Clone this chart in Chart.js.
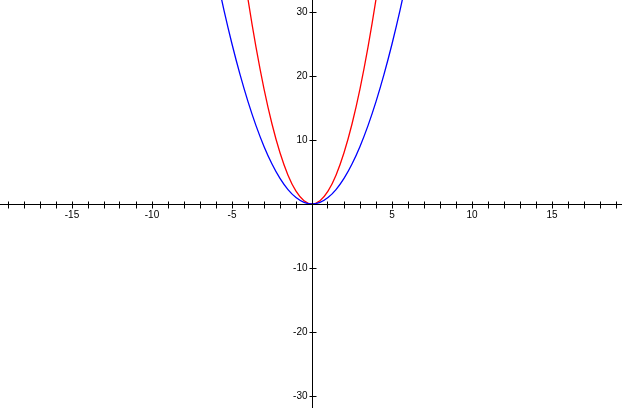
<!DOCTYPE html>
<html>
<head>
<meta charset="utf-8">
<script src="https://cdn.jsdelivr.net/npm/chart.js@4/dist/chart.umd.min.js"></script>
<style>
  html, body { margin: 0; padding: 0; background: #fff; }
  #wrap { width: 622px; height: 408px; position: relative; }
</style>
</head>
<body>
<div id="wrap"><canvas id="myChart"></canvas></div>
<script>
// points
const blueX = [-6, -5.5, -5, -4.5, -4, -3.5, -3, -2.5, -2, -1.5, -1, -0.5, 0, 0.5, 1, 1.5, 2, 2.5, 3, 3.5, 4, 4.5, 5, 5.5, 6];
const blueY = [36, 30.25, 25, 20.25, 16, 12.25, 9, 6.25, 4, 2.25, 1, 0.25, 0, 0.25, 1, 2.25, 4, 6.25, 9, 12.25, 16, 20.25, 25, 30.25, 36];
const redX = [-4.5, -4, -3.5, -3, -2.5, -2, -1.5, -1, -0.5, 0, 0.5, 1, 1.5, 2, 2.5, 3, 3.5, 4, 4.5];
const redY = [40.5, 32, 24.5, 18, 12.5, 8, 4.5, 2, 0.5, 0, 0.5, 2, 4.5, 8, 12.5, 18, 24.5, 32, 40.5];

// axis labels
const xLabels = [-15, -10, -5, 5, 10, 15];
const yLabels = [-30, -20, -10, 10, 20, 30];

function toPoints(xs, ys) {
    return xs.map((x, i) => ({ x: x, y: ys[i] }));
}

// draws the axes through the origin, like the original plot
const crossAxes = {
    id: 'crossAxes',
    afterDraw(chart) {
        const ctx = chart.ctx;
        const sx = chart.scales.x;
        const sy = chart.scales.y;
        const area = chart.chartArea;
        const x0 = Math.floor(sx.getPixelForValue(0)) + 0.5;
        const y0 = Math.floor(sy.getPixelForValue(0)) + 0.5;

        ctx.save();
        ctx.strokeStyle = '#000';
        ctx.lineWidth = 1;
        ctx.beginPath();
        ctx.moveTo(area.left, y0);
        ctx.lineTo(area.right, y0);
        ctx.moveTo(x0, area.top);
        ctx.lineTo(x0, area.bottom);

        // x ticks every unit
        for (let v = Math.ceil(sx.min); v <= Math.floor(sx.max); v++) {
            if (v === 0) continue;
            const px = Math.floor(sx.getPixelForValue(v)) + 0.5;
            ctx.moveTo(px, y0 - 3);
            ctx.lineTo(px, y0 + 4);
        }
        // y ticks at labels only
        yLabels.forEach(v => {
            const py = Math.floor(sy.getPixelForValue(v)) + 0.5;
            ctx.moveTo(x0 - 3, py);
            ctx.lineTo(x0 + 4, py);
        });
        ctx.stroke();

        ctx.fillStyle = '#000';
        ctx.font = '10px "Liberation Sans", Arial, sans-serif';
        ctx.textAlign = 'center';
        ctx.textBaseline = 'top';
        xLabels.forEach(v => {
            ctx.fillText(String(v), sx.getPixelForValue(v), y0 + 6);
        });
        ctx.textAlign = 'right';
        ctx.textBaseline = 'middle';
        yLabels.forEach(v => {
            ctx.fillText(String(v), x0 - 5, sy.getPixelForValue(v));
        });
        ctx.restore();
    }
};

const ctx = document.getElementById('myChart').getContext('2d');
const myChart = new Chart(ctx, {
    type: 'scatter',
    data: {
        datasets: [{
            label: 'blue',
            data: toPoints(blueX, blueY),
            showLine: true,
            borderColor: '#0000ff',
            borderWidth: 1.3,
            pointRadius: 0,
            cubicInterpolationMode: 'monotone'
        }, {
            label: 'red',
            data: toPoints(redX, redY),
            showLine: true,
            borderColor: '#ff0000',
            borderWidth: 1.3,
            pointRadius: 0,
            cubicInterpolationMode: 'monotone'
        }]
    },
    options: {
        responsive: true,
        maintainAspectRatio: false,
        animation: false,
        layout: { padding: 0 },
        plugins: {
            legend: { display: false },
            tooltip: { enabled: false }
        },
        scales: {
            x: { type: 'linear', min: -19.5, max: 19.375, display: false },
            y: { type: 'linear', min: -31.875, max: 31.875, display: false }
        }
    },
    plugins: [crossAxes]
});
</script>
</body>
</html>
